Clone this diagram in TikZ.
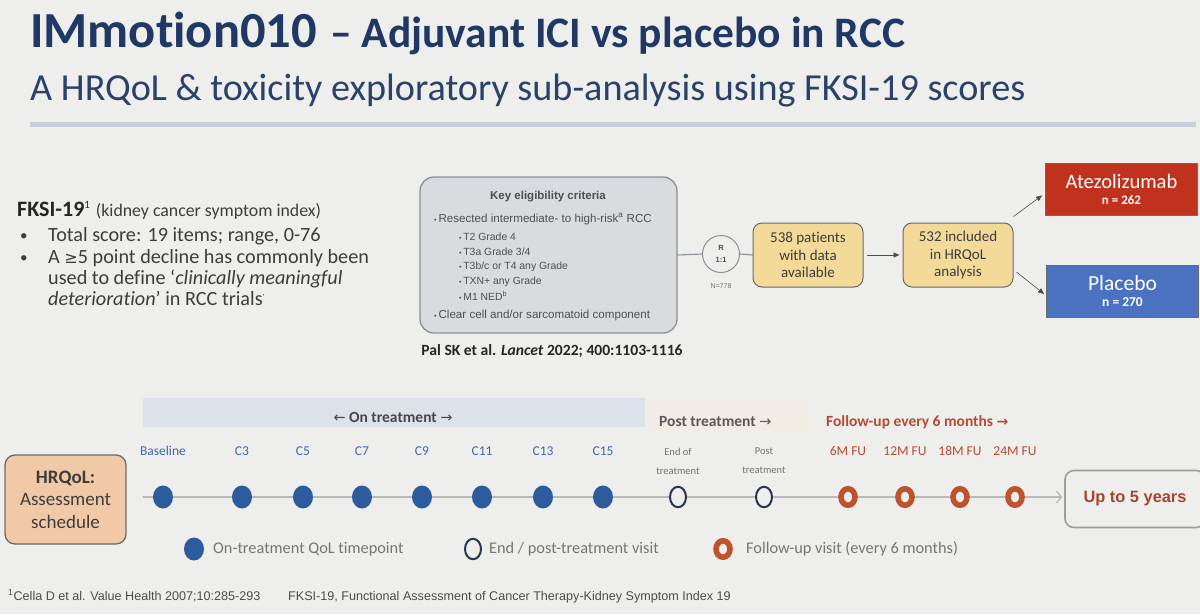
\documentclass[tikz,border=0pt]{standalone}
\usepackage{fontspec}
\setmainfont{Carlito}[Ligatures=NoCommon]
\newfontfamily\arialfont{Liberation Sans}
\newfontfamily\symfont{DejaVu Sans}
\usetikzlibrary{arrows.meta,shapes.geometric}
\definecolor{SlideBg}{HTML}{EEEEEC}
\definecolor{TitleNavy}{HTML}{1F3864}
\definecolor{SubNavy}{HTML}{2B4268}
\definecolor{RuleGrey}{HTML}{C8D0D9}
\definecolor{BodyGrey}{HTML}{3D3D3D}
\definecolor{ElFill}{HTML}{D9DBDE}
\definecolor{ElEdge}{HTML}{8B9096}
\definecolor{ElText}{HTML}{4F4F4F}
\definecolor{PaleYellow}{HTML}{F3DA98}
\definecolor{EdgeDark}{HTML}{6A6A6A}
\definecolor{AtezoRed}{HTML}{C0311E}
\definecolor{PlaceboBlue}{HTML}{4A72C0}
\definecolor{DotBlue}{HTML}{2D5C9E}
\definecolor{LabelBlue}{HTML}{3F69A8}
\definecolor{OpenNavy}{HTML}{283650}
\definecolor{RingOrange}{HTML}{BF532E}
\definecolor{FollowRed}{HTML}{B54A35}
\definecolor{OnBand}{HTML}{DCE2E9}
\definecolor{PostBand}{HTML}{F1ECE4}
\definecolor{Peach}{HTML}{F2C9A6}
\definecolor{LineGrey}{HTML}{B9B9B9}
\definecolor{LegendGrey}{HTML}{767676}
\newcommand\fsz[2]{\fontsize{#1}{#2}\selectfont}
\newcommand\smallbul{{\fsz{7}{7}•}\,}

\begin{document}
\begin{tikzpicture}[x=1pt,y=-1pt,line cap=round,line join=round,
  txt/.style={inner sep=0pt,anchor=base west},
  ybox/.style={draw=EdgeDark,fill=PaleYellow,rounded corners=9pt,line width=1pt,
    minimum width=110pt,minimum height=64pt,align=center,text=BodyGrey,font=\fsz{15}{17.5}},
  armbox/.style={draw=EdgeDark,line width=.8pt,minimum width=152pt,minimum height=52pt,
    align=center,text=white},
  ondot/.style={ellipse,fill=DotBlue,inner sep=0pt,minimum width=20pt,minimum height=23pt},
  enddot/.style={ellipse,draw=OpenNavy,fill=SlideBg,line width=2pt,inner sep=0pt,
    minimum width=16pt,minimum height=20.5pt},
  fudot/.style={ellipse,draw=RingOrange,fill=SlideBg,line width=5.6pt,inner sep=0pt,
    minimum width=14pt,minimum height=16.5pt}]
  \fill[SlideBg] (0,0) rectangle (1200,614);
  \useasboundingbox (0,0) rectangle (1200,614);

  % heading
  \node[txt,text=TitleNavy,font=\bfseries\fsz{50.5}{50.5}] (title) at (30,47) {IMmotion010};
  \node[txt,text=TitleNavy,font=\bfseries\fsz{43.5}{43.5}] (titlerest) at (330,47) {– Adjuvant ICI vs placebo in RCC};
  \node[txt,text=SubNavy,font=\fsz{38.2}{38.2}] (subtitle) at (30,100) {A HRQoL \& toxicity exploratory sub-analysis using FKSI-19 scores};
  \fill[RuleGrey] (30,121.5) rectangle (1196,126.5);

  % FKSI-19 notes
  \begin{scope}[text=BodyGrey,font=\fsz{20.2}{20.2}]
    \node[txt,font=\bfseries\fsz{22}{22},text=black!85] (fksi) at (17,216) {FKSI-19\textsuperscript{\mdseries\fsz{11}{11}1}};
    \node[txt,font=\fsz{17.8}{17.8}] (fksinote) at ([xshift=5pt]fksi.base east) {(kidney cancer symptom index)};
    \node[txt] (bulA) at (20,240) {{\fsz{15}{15}•}};
    \node[txt] (lineA) at (48,241) {Total score: 19 items; range, 0-76};
    \node[txt] (bulB) at (20,262) {{\fsz{15}{15}•}};
    \node[txt] (lineB) at (48,263) {A {\symfont\fsz{16}{16}≥}5 point decline has commonly been};
    \node[txt] (lineC) at (48,284) {used to define ‘\textit{clinically meaningful}};
    \node[txt] (lineD) at (48,305) {\textit{deterioration}’ in RCC trials\textsuperscript{\fsz{8}{8}·}};
  \end{scope}

  % eligibility
  \node[draw=ElEdge,fill=ElFill,rounded corners=14pt,line width=1.3pt,
    minimum width=257pt,minimum height=156pt] (elig) at (548.5,255) {};
  \begin{scope}[text=ElText,font=\arialfont\fsz{10.4}{10.4}]
    \node[font=\arialfont\bfseries\fsz{11.5}{11.5}] (eligtitle) at (548,197) {Key eligibility criteria};
    \node[anchor=west,inner sep=0pt,font=\arialfont\fsz{11.6}{11.6}] (critA) at (434,219) {\smallbul Resected intermediate- to high-risk\textsuperscript{a} RCC};
    \foreach \y/\t/\n in {237/T2 Grade 4/a, 252/{T3a Grade 3/4}/b, 267/{T3b/c or T4 any Grade}/c,
        282/TXN+ any Grade/d, 296/M1 NED\textsuperscript{b}/e}
      \node[anchor=west,inner sep=0pt] (sub\n) at (459,\y) {\smallbul\t};
    \node[anchor=west,inner sep=0pt,font=\arialfont\fsz{11.6}{11.6}] (critB) at (434,315) {\smallbul Clear cell and/or sarcomatoid component};
  \end{scope}
  \node[font=\bfseries\fsz{15.6}{15.6},text=black!85] (palsk) at (552,351) {Pal SK et al. \textit{Lancet} 2022; 400:1103-1116};

  % flow
  \node[circle,draw=ElEdge,fill=SlideBg,line width=1pt,minimum size=37pt,inner sep=0pt,
    align=center,text=ElText,font=\arialfont\bfseries\fsz{7.5}{11.5}] (rand) at (721,254) {R\\1:1};
  \node[text=ElText!80,font=\arialfont\fsz{7}{7}] (nall) at (721,286) {N=778};
  \node[ybox] (pts) at (808,255) {538 patients\\with data\\available};
  \node[ybox] (incl) at (958,255) {532 included\\in HRQoL\\analysis};
  \node[armbox,fill=AtezoRed] (atezo) at (1121.5,189) {\fsz{20.5}{20.5}Atezolizumab\\[4pt]\bfseries\fsz{13}{13}n = 262};
  \node[armbox,fill=PlaceboBlue] (placebo) at (1122.5,291) {\fsz{21.5}{21.5}Placebo\\[4pt]\bfseries\fsz{13.5}{13.5}n = 270};
  \draw[ElEdge,line width=1.1pt] (elig.east) -- (rand.west);
  \draw[ElEdge,line width=1.1pt] (rand.east) -- (pts.west);
  \draw[black!70,line width=.6pt,-{Triangle[length=6pt,width=5pt]}] ([xshift=4pt]pts.east) -- ([xshift=-3pt]incl.west);
  \draw[black!70,line width=.6pt,-{Triangle[length=6pt,width=5pt]}] ([yshift=6pt]incl.north east) -- ([xshift=-3pt,yshift=20pt]atezo.south west);
  \draw[black!70,line width=.6pt,-{Triangle[length=6pt,width=5pt]}] ([xshift=3pt,yshift=-17pt]incl.east) -- ([xshift=-2pt,yshift=-3pt]placebo.west);

  % schedule header bands
  \fill[OnBand] (143,398) rectangle (645,427);
  \fill[PostBand] (648,402) rectangle (810,431);
  \node[font=\bfseries\fsz{15.5}{15.5},text=black!72] (onlabel) at (393,417) {{\symfont\mdseries\fsz{14.5}{14.5}←} On treatment {\symfont\mdseries\fsz{14.5}{14.5}→}};
  \node[txt,font=\bfseries\fsz{15.5}{15.5},text=black!65] (postlabel) at (659,426) {Post treatment {\symfont\mdseries\fsz{14.5}{14.5}→}};
  \node[txt,font=\fsz{15.5}{15.5},text=FollowRed] (fulabel) at (826,426) {\bfseries Follow-up every 6 months {\symfont\fsz{14}{14}→}};

  % schedule
  \node[draw=EdgeDark,fill=Peach,rounded corners=10pt,line width=1.3pt,minimum width=121pt,
    minimum height=89pt,align=center,text=BodyGrey,font=\fsz{19}{22.5}] (hrqol) at (65.5,499.5) {\textbf{HRQoL:}\\Assessment\\schedule};
  \node[draw=LineGrey!85!black,line width=1.6pt,rounded corners=9pt,minimum width=140pt,minimum height=57pt,
    text=FollowRed!92!black,font=\arialfont\bfseries\fsz{16.4}{16.4}] (upto) at (1135,499) {Up to 5 years};
  \coordinate (tlstart) at (143,497);
  \draw[LineGrey,line width=1.3pt,shorten >=2pt,-{Straight Barb[length=5pt,width=12pt]}] (tlstart) -- (tlstart -| upto.west);
  \foreach \x/\l/\n in {163/Baseline/bl, 242/C3/c3, 303/C5/c5, 362/C7/c7, 422/C9/c9,
      482/C11/c11, 543/C13/c13, 603/C15/c15} {
    \node[ondot] (on\n) at (\x,497) {};
    \node[text=LabelBlue,font=\fsz{13.5}{13.5}] (lab\n) at (\x,451) {\l};
  }
  \foreach \x/\a/\b/\n in {678/End of/treatment/eot, 764/Post/treatment/post} {
    \node[enddot] (end\n) at (\x,497) {};
    \node[text=black!55,font=\fsz{10.5}{19},align=center] (lab\n) at (\x,461) {\a\\\b};
  }
  \foreach \x/\l/\n in {848/6M FU/m6, 905/12M FU/m12, 960/18M FU/m18, 1015/24M FU/m24} {
    \node[fudot] (fu\n) at (\x,497) {};
    \node[text=FollowRed,font=\fsz{13.5}{13.5}] (lab\n) at (\x,451) {\l};
  }

  % legend
  \begin{scope}[text=LegendGrey,font=\fsz{16.3}{16.3}]
    \node[ondot] (keyon) at (194,549) {};
    \node[anchor=west,inner sep=0pt] (keyontxt) at (213,549) {On-treatment QoL timepoint};
    \node[enddot] (keyend) at (473,549) {};
    \node[anchor=west,inner sep=0pt] (keyendtxt) at (489,549) {End / post-treatment visit};
    \node[fudot] (keyfu) at (723,549) {};
    \node[anchor=west,inner sep=0pt] (keyfutxt) at (746,549) {Follow-up visit (every 6 months)};
  \end{scope}

  % footnotes
  \node[txt,text=black!70,font=\arialfont\fsz{12.6}{12.6}] (cite) at (8,600) {\textsuperscript{1}Cella D et al. Value Health 2007;10:285-293};
  \node[txt,text=black!70,font=\arialfont\fsz{12.6}{12.6}] (abbr) at (288,600) {FKSI-19, Functional Assessment of Cancer Therapy-Kidney Symptom Index 19};
  \draw[black!8,line width=.8pt] (8,607) -- (1190,607);
\end{tikzpicture}
\end{document}
